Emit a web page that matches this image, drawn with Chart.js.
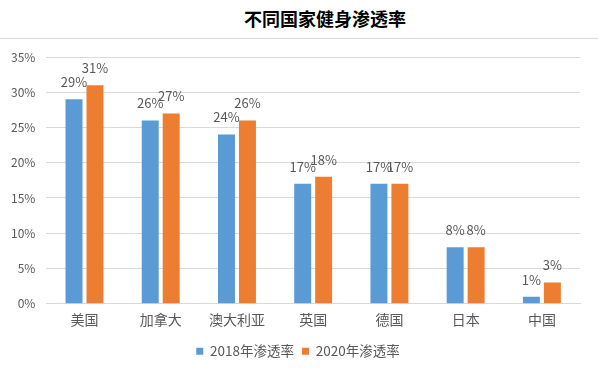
<!DOCTYPE html>
<html lang="zh">
<head>
  <meta charset="UTF-8">
  <title>不同国家健身渗透率</title>
  <script src="https://cdn.jsdelivr.net/npm/chart.js"></script>
  <style>
    body {
      margin: 0;
      background: #fff;
      overflow: hidden;
    }
    .wrap {
      position: relative;
      width: 598px;
      height: 380px;
    }
    .topline {
      position: absolute;
      left: 0;
      right: 0;
      top: 38px;
      border-top: 1px solid #d9d9d9;
    }
    .title {
      position: absolute;
      left: 225px;
      width: 200px;
      top: 6px;
      text-align: center;
      font: bold 18px 'Noto Sans CJK SC', sans-serif;
      line-height: 24px;
      color: #000;
    }
    canvas {
      position: absolute;
      left: 0;
      top: 0;
    }
  </style>
</head>
<body>
  <div class="wrap">
    <div class="topline"></div>
    <div class="title">不同国家健身渗透率</div>
    <canvas id="chartCanvas" width="598" height="380"></canvas>
  </div>

  <script>
    const countries = ['美国', '加拿大', '澳大利亚', '英国', '德国', '日本', '中国'];
    const rate2018 = [29, 26, 24, 17, 17, 8, 1];
    const rate2020 = [31, 27, 26, 18, 17, 8, 3];

    const fontFamily = "'Noto Sans CJK SC', 'Liberation Sans', sans-serif";

    // draws the % value above each bar
    const barLabels = {
      id: 'barLabels',
      afterDatasetsDraw(chart) {
        const ctx = chart.ctx;
        ctx.save();
        ctx.font = '13px ' + fontFamily;
        ctx.fillStyle = '#595959';
        ctx.textAlign = 'center';
        ctx.textBaseline = 'middle';
        chart.data.datasets.forEach((ds, i) => {
          chart.getDatasetMeta(i).data.forEach((bar, j) => {
            ctx.fillText(ds.data[j] + '%', bar.x, bar.y - 17);
          });
        });
        ctx.restore();
      }
    };

    // legend in the original sits a little right of centre
    const shiftLegend = {
      id: 'shiftLegend',
      afterLayout(chart) {
        chart.legend.left += 8;
        chart.legend.right += 8;
      }
    };

    const ctx = document.getElementById('chartCanvas').getContext('2d');
    new Chart(ctx, {
      type: 'bar',
      data: {
        labels: countries,
        datasets: [
          {
            label: '2018年渗透率',
            data: rate2018,
            backgroundColor: '#5B9BD5',
            categoryPercentage: 0.55,
            barPercentage: 0.81
          },
          {
            label: '2020年渗透率',
            data: rate2020,
            backgroundColor: '#ED7D31',
            categoryPercentage: 0.55,
            barPercentage: 0.81
          }
        ]
      },
      options: {
        responsive: false,
        animation: false,
        layout: { padding: { left: 0, right: 18, top: 57, bottom: 12 } },
        plugins: {
          title: { display: false },
          legend: {
            position: 'bottom',
            labels: {
              boxWidth: 7,
              boxHeight: 7,
              color: '#595959',
              font: { family: fontFamily, size: 13.5 },
              padding: 8
            }
          },
          tooltip: { enabled: false }
        },
        scales: {
          x: {
            grid: { display: false, drawTicks: false },
            border: { color: '#d9d9d9' },
            ticks: {
              color: '#595959',
              padding: 8,
              font: { family: fontFamily, size: 14 }
            }
          },
          y: {
            min: 0,
            max: 35,
            grid: { color: '#d9d9d9', drawTicks: false },
            border: { display: false },
            ticks: {
              stepSize: 5,
              color: '#595959',
              padding: 11,
              font: { family: fontFamily, size: 12 },
              callback: v => v + '%'
            }
          }
        }
      },
      plugins: [barLabels, shiftLegend]
    });
  </script>
</body>
</html>
